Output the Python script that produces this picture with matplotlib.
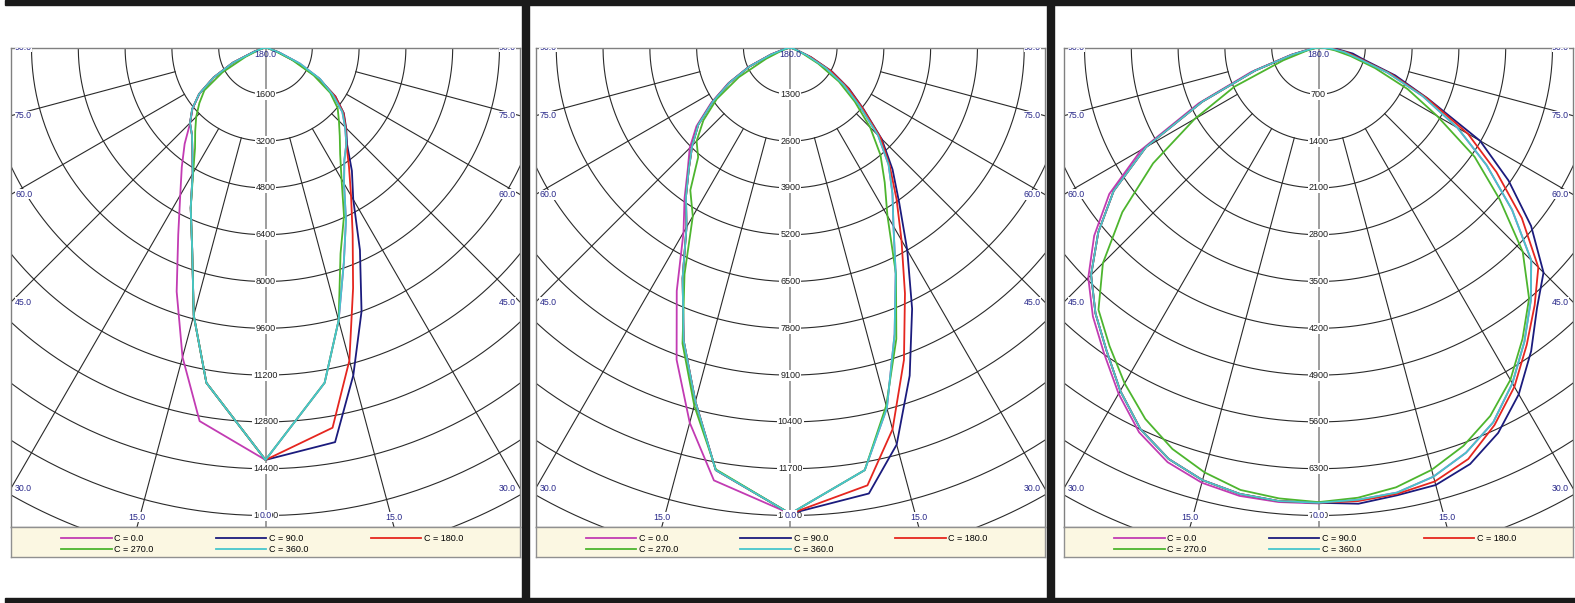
import numpy as np
import matplotlib
matplotlib.use("Agg")
import matplotlib.pyplot as plt
from matplotlib.patches import Rectangle

plt.rcParams['font.family'] = ['Liberation Sans', 'DejaVu Sans']

# gamma angles (deg) for every half curve, 0 = straight down
ANGLES_A = [0, 10, 15, 20, 25, 30, 35, 40, 45, 50, 55, 60, 65, 70, 75, 80, 85, 90]
ANGLES_B = [0, 5, 10, 15, 20, 25, 30, 35, 40, 45, 50, 55, 60, 65, 70, 75, 80, 85, 90]

LABELS = ['C = 0.0', 'C = 90.0', 'C = 180.0', 'C = 270.0', 'C = 360.0']
COLORS = ['#c23bb3', '#1b1b7d', '#e5261f', '#4db52e', '#46c6cc']

RING_STEPS = [1600, 1300, 700]

# ---- panel 1 (cd) ----
p1_c360_l = [14100, 11640, 9480, 7330, 6050, 4980, 4360, 3910, 3650, 3270, 2770, 2050, 1230, 400, 80, 0, 0, 0]
p1_c360_r = [14100, 11640, 9660, 7830, 6510, 5370, 4700, 4300, 3850, 3430, 2800, 2150, 1300, 500, 100, 0, 0, 0]
p1_c0_l = [14100, 12970, 10960, 8880, 7060, 5830, 4990, 4300, 3640, 3260, 2760, 2040, 1220, 400, 80, 0, 0, 0]
p1_c0_r = p1_c360_r
p1_c90_l = p1_c360_l
p1_c90_r = [14100, 13700, 11600, 9600, 7640, 6000, 5150, 4340, 3900, 3495, 2920, 2090, 1130, 450, 100, 0, 0, 0]
p1_c180_l = p1_c360_l
p1_c180_r = [14100, 13200, 11080, 8755, 7050, 5850, 4976, 4300, 3880, 3480, 2900, 2080, 1120, 440, 100, 0, 0, 0]
p1_c270_l = [14100, 11640, 9480, 7330, 6050, 4950, 4200, 3740, 3350, 2950, 2550, 1700, 750, 250, 50, 0, 0, 0]
p1_c270_r = [14100, 11640, 9660, 7500, 6350, 5200, 4450, 3950, 3550, 3220, 2700, 1900, 1000, 350, 60, 0, 0, 0]

# ---- panel 2 (cd) ----
p2_c360_l = [12950, 11920, 10180, 8660, 7075, 5765, 5050, 4380, 3850, 3335, 2630, 1945, 1250, 560, 150, 0, 0, 0]
p2_c360_r = [12950, 11920, 10370, 8475, 6930, 5735, 4950, 4250, 3450, 2500, 1820, 1150, 500, 110, 0, 0, 0, 0]
p2_c0_l = [12950, 12210, 10790, 9230, 7460, 5930, 5120, 4430, 3950, 3400, 2680, 1990, 1280, 580, 160, 0, 0, 0]
p2_c0_r = p2_c360_r
p2_c90_l = p2_c360_l
p2_c90_r = [12950, 12580, 11420, 9700, 8010, 6500, 5280, 4420, 3590, 2650, 1990, 1340, 640, 150, 0, 0, 0, 0]
p2_c180_l = p2_c360_l
p2_c180_r = [12950, 12350, 10980, 9235, 7540, 6180, 5150, 4300, 3550, 2620, 1950, 1300, 620, 140, 0, 0, 0, 0]
p2_c270_l = [12950, 11900, 10300, 8750, 6950, 5414, 4840, 3980, 3680, 3150, 2490, 1650, 740, 250, 60, 0, 0, 0]
p2_c270_r = [12950, 11920, 10300, 8615, 6950, 5400, 4575, 3900, 3140, 2340, 1650, 900, 350, 60, 0, 0, 0, 0]

# ---- panel 3 (cd), read every 5 deg ----
p3_c360_l = [6810, 6810, 6780, 6700, 6550, 6300, 5930, 5530, 5190, 4810, 4300, 3740, 2980, 1920, 1010, 400, 100, 15, 0]
p3_c360_r = [6810, 6790, 6760, 6645, 6450, 6185, 5800, 5370, 4940, 4500, 3780, 3070, 2400, 1720, 1100, 590, 390, 190, 0]
p3_c0_l = [6820, 6825, 6810, 6740, 6600, 6350, 5980, 5590, 5250, 4870, 4380, 3820, 3060, 1980, 1070, 430, 120, 20, 0]
p3_c0_r = p3_c360_r
p3_c90_l = p3_c360_l
p3_c90_r = [6820, 6850, 6800, 6775, 6630, 6360, 5990, 5545, 5085, 4760, 4150, 3470, 2790, 1800, 1220, 700, 520, 280, 0]
p3_c180_l = p3_c360_l
p3_c180_r = [6820, 6810, 6780, 6720, 6550, 6230, 5860, 5430, 5030, 4650, 3970, 3250, 2580, 1780, 1150, 640, 440, 230, 0]
p3_c270_l = [6800, 6770, 6720, 6580, 6390, 6130, 5800, 5450, 5120, 4560, 3830, 3020, 2140, 1390, 560, 180, 40, 0, 0]
p3_c270_r = [6800, 6760, 6680, 6540, 6340, 6080, 5740, 5320, 4900, 4320, 3540, 2850, 2050, 1470, 900, 500, 250, 100, 0]

PANELS = [
    [(p1_c0_l, p1_c0_r), (p1_c90_l, p1_c90_r), (p1_c180_l, p1_c180_r), (p1_c270_l, p1_c270_r), (p1_c360_l, p1_c360_r)],
    [(p2_c0_l, p2_c0_r), (p2_c90_l, p2_c90_r), (p2_c180_l, p2_c180_r), (p2_c270_l, p2_c270_r), (p2_c360_l, p2_c360_r)],
    [(p3_c0_l, p3_c0_r), (p3_c90_l, p3_c90_r), (p3_c180_l, p3_c180_r), (p3_c270_l, p3_c270_r), (p3_c360_l, p3_c360_r)],
]
PANEL_ANGLES = [ANGLES_A, ANGLES_A, ANGLES_B]

W, H = 1575, 603
RING_PX = 46.8
FRAMES = [(11, 520), (535.5, 1045), (1064, 1573)]
TOP_PX, BOT_PX, LEG_PX = 47.5, 527, 557
BLUE = '#28288a'
GRID = '#2a2a2a'

fig = plt.figure(figsize=(W / 100, H / 100), dpi=100)


def curve_xy(angles, left, right):
    g = np.radians(np.concatenate([-np.array(angles[::-1]), np.array(angles[1:])]))
    r = np.concatenate([np.array(left[::-1], float), np.array(right[1:], float)])
    return r * np.sin(g), -r * np.cos(g)


def draw_panel(idx):
    x0, x1 = FRAMES[idx]
    step = RING_STEPS[idx]
    u = step / RING_PX  # data units per pixel
    ax = fig.add_axes([x0 / W, 1 - BOT_PX / H, (x1 - x0) / W, (BOT_PX - TOP_PX) / H])
    half = (x1 - x0) / 2 * u
    ymin = -(BOT_PX - TOP_PX) * u
    ax.set_xlim(-half, half)
    ax.set_ylim(ymin, 0)
    ax.set_xticks([])
    ax.set_yticks([])
    for s in ax.spines.values():
        s.set_color('#808080')
        s.set_linewidth(1.0)

    # rings
    t = np.linspace(0, 2 * np.pi, 720)
    for k in range(1, 16):
        ax.plot(k * step * np.cos(t), k * step * np.sin(t), color=GRID, lw=0.8, zorder=1)
    # radial lines
    rr = np.array([2 * step, 30 * step])
    for a in (15, 30, 45, 60, 75):
        ar = np.radians(a)
        for sg in (-1, 1):
            ax.plot(sg * rr * np.sin(ar), -rr * np.cos(ar), color=GRID, lw=0.8, zorder=1)
    ax.plot([0, 0], [0, -30 * step], color='#8c8c8c', lw=1.2, zorder=1)

    # ring labels
    for k in range(1, 11):
        ax.text(0, -k * step, f"{k * step}", ha='center', va='center', fontsize=6.5,
                color='#1e1e1e', zorder=3, clip_on=True,
                bbox=dict(boxstyle='square,pad=0.1', fc='white', ec='none'))
    ax.text(0, -7 * u, '180.0', ha='center', va='center', fontsize=6.3, color=BLUE, zorder=6)
    ax.text(0, -10 * step, '0.0', ha='center', va='center', fontsize=6.3, color=BLUE, zorder=6,
            bbox=dict(boxstyle='square,pad=0.1', fc='white', ec='none'))

    # angle labels on the frame
    for a in (15, 30, 45, 60, 75, 90):
        ar = np.radians(a)
        for sg in (-1, 1):
            y_side = -half / np.tan(ar) if a < 90 else 0.0
            if y_side >= ymin:
                xt = sg * (half - 4 * u)
                ax.text(xt, y_side, f"{a:.1f}", ha='left' if sg < 0 else 'right', va='center',
                        fontsize=6.3, color=BLUE, zorder=5, clip_on=True,
                        bbox=dict(boxstyle='square,pad=0.05', fc='white', ec='none'))
            else:
                xb = sg * (-ymin) * np.tan(ar)
                ax.text(xb, ymin + 10 * u, f"{a:.1f}", ha='center', va='center',
                        fontsize=6.3, color=BLUE, zorder=5, clip_on=True,
                        bbox=dict(boxstyle='square,pad=0.05', fc='white', ec='none'))

    lines = []
    for (left, right), col, lab in zip(PANELS[idx], COLORS, LABELS):
        x, y = curve_xy(PANEL_ANGLES[idx], left, right)
        ln, = ax.plot(x, y, color=col, lw=1.3, label=lab, zorder=4)
        lines.append(ln)

    # legend strip
    lax = fig.add_axes([x0 / W, 1 - LEG_PX / H, (x1 - x0) / W, (LEG_PX - BOT_PX) / H])
    lax.set_facecolor('#fbf7e2')
    lax.set_xticks([])
    lax.set_yticks([])
    for s in lax.spines.values():
        s.set_color('#909090')
        s.set_linewidth(1.0)
    order = [0, 3, 1, 4, 2]
    lax.legend([lines[i] for i in order], [LABELS[i] for i in order], ncol=3,
               loc='upper left', bbox_to_anchor=(50 / (x1 - x0), 0.76), frameon=False,
               fontsize=6.5, handlelength=5.6, handletextpad=0.3, columnspacing=6.9,
               labelspacing=0.2, borderpad=0, borderaxespad=0)


for i in range(3):
    draw_panel(i)

# black framing bars
for (bx, by, bw, bh) in [(5, 598, 1570, 5), (5, 0, 1570, 5), (522, 0, 7, 603), (1047, 0, 7, 603)]:
    fig.add_artist(Rectangle((bx / W, 1 - (by + bh) / H), bw / W, bh / H,
                             transform=fig.transFigure, color='#1a1a1a', zorder=20))

fig.savefig('out.png', dpi=100)
